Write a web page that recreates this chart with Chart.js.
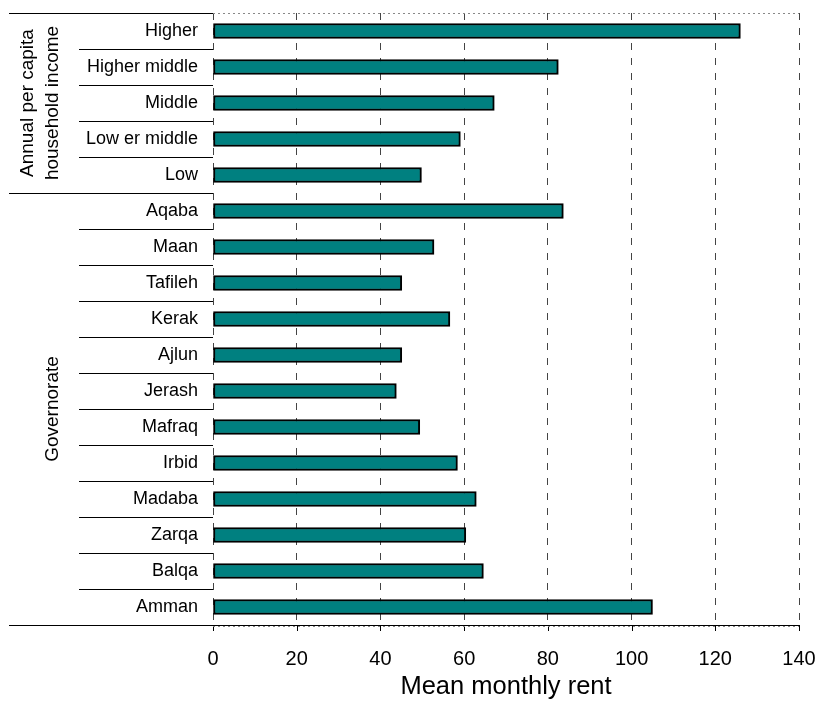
<!DOCTYPE html>
<html>
<head>
<meta charset="utf-8">
<title>Mean monthly rent</title>
<script src="https://cdn.jsdelivr.net/npm/chart.js@4/dist/chart.umd.min.js"></script>
<style>
  html, body { margin: 0; padding: 0; background: #fff; }
  #wrap { width: 820px; height: 715px; }
</style>
</head>
<body>
<div id="wrap"><canvas id="c" width="820" height="715"></canvas></div>
<script>
// Row labels, top to bottom
const categories = [
  "Higher", "Higher middle", "Middle", "Low er middle", "Low",
  "Aqaba", "Maan", "Tafileh", "Kerak", "Ajlun", "Jerash", "Mafraq",
  "Irbid", "Madaba", "Zarqa", "Balqa", "Amman"
];
// Mean monthly rent per row
const rentValues = [
  126, 82.5, 67.2, 59.1, 49.8,
  83.7, 52.8, 45.1, 56.6, 45.1, 43.8, 49.4,
  58.4, 62.9, 60.4, 64.6, 105.0
];
// Row groups shown on the far left
const groupNames = [["Annual per capita", "household income"], ["Governorate"]];
const groupSizes = [5, 12];
// Value axis
const xTicks = [0, 20, 40, 60, 80, 100, 120, 140];
const xTitle = "Mean monthly rent";

const FONT = "'Liberation Sans', Arial, sans-serif";
// Wanted plot rectangle
const PLOT = { left: 213, right: 799, top: 13, bottom: 625 };

// Separator lines between rows, rotated group captions, frame and tick marks
const groupPlugin = {
  id: 'groups',
  afterDraw(chart) {
    const ctx = chart.ctx;
    const y = chart.scales.y;
    const x = chart.scales.x;
    const area = chart.chartArea;
    const band = (y.getPixelForValue(1) - y.getPixelForValue(0));
    const edge = i => y.getPixelForValue(i) - band / 2;
    ctx.save();
    ctx.strokeStyle = '#000';
    ctx.lineWidth = 1;
    let start = 0;
    groupSizes.forEach((size, g) => {
      // outer boundary of the group
      const top = edge(start), bottom = edge(start + size);
      ctx.beginPath();
      ctx.moveTo(9, Math.round(top) + 0.5);
      ctx.lineTo(area.left, Math.round(top) + 0.5);
      ctx.moveTo(9, Math.round(bottom) + 0.5);
      ctx.lineTo(area.left, Math.round(bottom) + 0.5);
      ctx.stroke();
      // inner row separators
      for (let i = start + 1; i < start + size; i++) {
        const yy = Math.round(edge(i)) + 0.5;
        ctx.beginPath();
        ctx.moveTo(79, yy);
        ctx.lineTo(area.left, yy);
        ctx.stroke();
      }
      // rotated caption
      const lines = groupNames[g];
      const cy = (top + bottom) / 2;
      ctx.save();
      ctx.translate(0, cy);
      ctx.rotate(-Math.PI / 2);
      ctx.fillStyle = '#000';
      ctx.font = '19px ' + FONT;
      ctx.textAlign = 'center';
      ctx.textBaseline = 'middle';
      const lh = 25;
      const cx = lines.length === 1 ? 53 : 40;
      lines.forEach((t, k) => {
        const px = cx + (k - (lines.length - 1) / 2) * lh;
        ctx.fillText(t, 0, px);
      });
      ctx.restore();
      start += size;
    });
    // short tick marks below the value axis
    ctx.beginPath();
    xTicks.forEach(v => {
      const px = Math.round(x.getPixelForValue(v)) + 0.5;
      ctx.moveTo(px, area.bottom);
      ctx.lineTo(px, area.bottom + 6);
    });
    ctx.stroke();
    // dotted frame along top and bottom of the plot
    ctx.strokeStyle = '#888';
    ctx.setLineDash([2, 3]);
    ctx.beginPath();
    ctx.moveTo(area.left, area.top + 0.5);
    ctx.lineTo(area.right, area.top + 0.5);
    ctx.moveTo(area.left, area.bottom + 1.5);
    ctx.lineTo(area.right, area.bottom + 1.5);
    ctx.stroke();
    ctx.restore();
  }
};

const pad = { left: 0, right: 820 - PLOT.right, top: PLOT.top, bottom: 0 };

const chart = new Chart(document.getElementById('c'), {
  type: 'bar',
  data: {
    labels: categories,
    datasets: [{
      data: rentValues,
      backgroundColor: '#008080',
      borderColor: '#000',
      borderWidth: 2,
      borderSkipped: false,
      barThickness: 15
    }]
  },
  options: {
    indexAxis: 'y',
    responsive: false,
    animation: false,
    events: [],
    layout: { padding: pad },
    plugins: { legend: { display: false }, tooltip: { enabled: false } },
    scales: {
      x: {
        type: 'linear',
        min: xTicks[0],
        max: xTicks[xTicks.length - 1],
        afterBuildTicks(scale) { scale.ticks = xTicks.map(v => ({ value: v })); },
        afterFit(scale) { scale.height = 715 - PLOT.bottom; },
        grid: {
          color: '#444',
          lineWidth: 1,
          drawTicks: true,
          tickLength: 20,
          tickColor: 'rgba(0,0,0,0)'
        },
        border: { display: true, color: '#000', width: 1, dash: [7, 8] },
        ticks: {
          color: '#000',
          font: { family: FONT, size: 20 },
          padding: 2,
          maxRotation: 0
        },
        title: {
          display: true,
          text: xTitle,
          color: '#000',
          font: { family: FONT, size: 25.5 },
          padding: { top: 0, bottom: 12.7 }
        }
      },
      y: {
        type: 'category',
        afterFit(scale) { scale.width = PLOT.left; },
        grid: {
          display: true,
          drawOnChartArea: false,
          drawTicks: true,
          tickLength: 15,
          tickColor: 'rgba(0,0,0,0)',
          color: 'rgba(0,0,0,0)'
        },
        border: { display: false },
        ticks: {
          color: '#000',
          font: { family: FONT, size: 18 },
          padding: 0,
          autoSkip: false
        }
      }
    }
  },
  plugins: [groupPlugin]
});

// Nudge the outer padding until the plot rectangle sits where wanted
for (let k = 0; k < 3; k++) {
  const a = chart.chartArea;
  pad.top = Math.max(0, pad.top + PLOT.top - a.top);
  pad.right = Math.max(0, pad.right + a.right - PLOT.right);
  pad.left = Math.max(0, pad.left + PLOT.left - a.left);
  pad.bottom = Math.max(0, pad.bottom + a.bottom - PLOT.bottom);
  chart.options.layout.padding = { ...pad };
  chart.update();
}
</script>
</body>
</html>
